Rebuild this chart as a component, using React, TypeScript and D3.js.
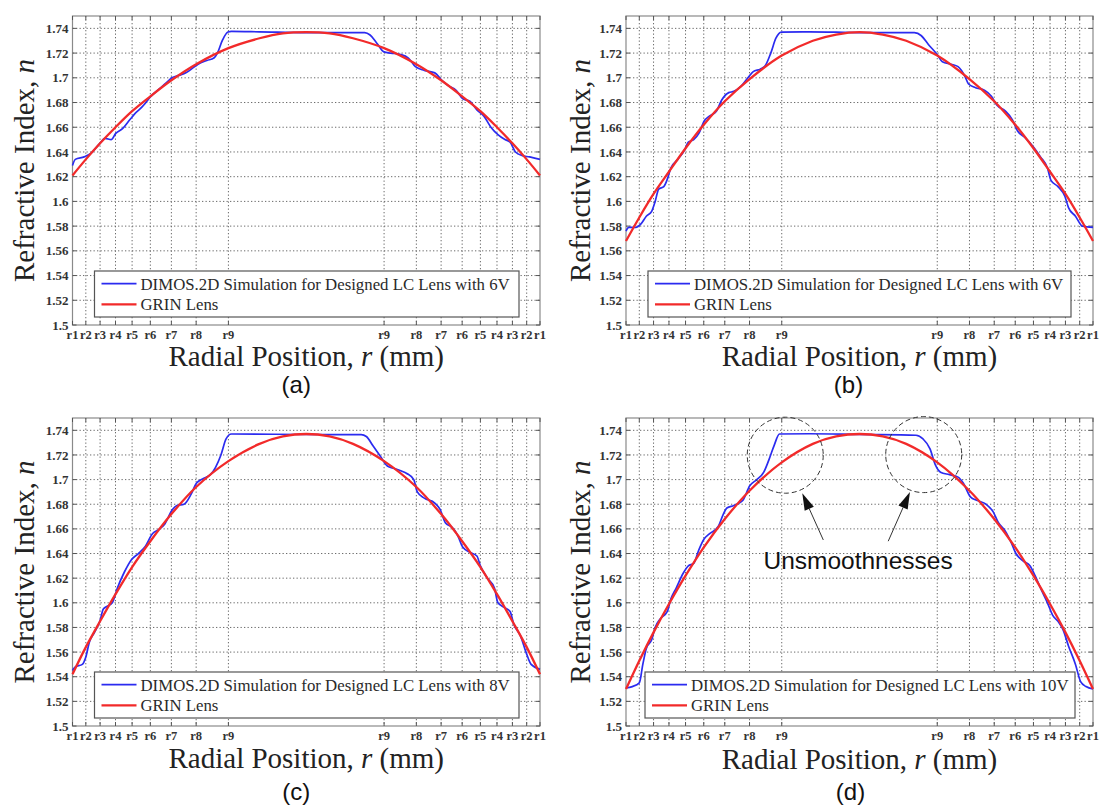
import React from "react";
import * as d3 from "d3";

const SERIF = '"Liberation Serif", "Times New Roman", Times, serif';
const SANS = '"Liberation Sans", Arial, Helvetica, sans-serif';

// normalized radial position of electrode rings
const tickPos = [-1, -0.943, -0.882, -0.816, -0.745, -0.667, -0.577, -0.471, -0.333,
  0.333, 0.471, 0.577, 0.667, 0.745, 0.816, 0.882, 0.943, 1];
const tickLabels = ["r1", "r2", "r3", "r4", "r5", "r6", "r7", "r8", "r9",
  "r9", "r8", "r7", "r6", "r5", "r4", "r3", "r2", "r1"];
const yTicks = [1.5, 1.52, 1.54, 1.56, 1.58, 1.6, 1.62, 1.64, 1.66, 1.68, 1.7, 1.72, 1.74];

// GRIN lens (red) sample positions & values
const redX = [-1, -0.943, -0.882, -0.816, -0.745, -0.667, -0.577, -0.471, -0.333, -0.2, -0.1, 0,
  0.1, 0.2, 0.333, 0.471, 0.577, 0.667, 0.745, 0.816, 0.882, 0.943, 1];
const redA = [1.621, 1.634, 1.647, 1.660, 1.673, 1.685, 1.698, 1.711, 1.724, 1.732, 1.736, 1.737,
  1.736, 1.732, 1.724, 1.711, 1.698, 1.685, 1.673, 1.660, 1.647, 1.634, 1.621];
const redB = [1.568, 1.587, 1.606, 1.624, 1.643, 1.662, 1.681, 1.699, 1.718, 1.730, 1.735, 1.737,
  1.735, 1.730, 1.718, 1.699, 1.681, 1.662, 1.643, 1.624, 1.606, 1.587, 1.568];
const redC = [1.542, 1.564, 1.585, 1.607, 1.629, 1.650, 1.672, 1.694, 1.715, 1.729, 1.735, 1.737,
  1.735, 1.729, 1.715, 1.694, 1.672, 1.650, 1.629, 1.607, 1.585, 1.564, 1.542];
const redD = [1.530, 1.553, 1.576, 1.599, 1.622, 1.645, 1.668, 1.691, 1.714, 1.729, 1.735, 1.737,
  1.735, 1.729, 1.714, 1.691, 1.668, 1.645, 1.622, 1.599, 1.576, 1.553, 1.530];

// DIMOS.2D simulation (blue) [position, index]
const blueA: [number, number][] = [
  [-1.0, 1.629], [-0.988, 1.634], [-0.95, 1.636], [-0.92, 1.639], [-0.883, 1.647], [-0.861, 1.651],
  [-0.834, 1.650], [-0.815, 1.655], [-0.785, 1.659], [-0.755, 1.666], [-0.733, 1.671], [-0.71, 1.675],
  [-0.695, 1.678], [-0.665, 1.685], [-0.635, 1.690], [-0.598, 1.696], [-0.575, 1.700], [-0.545, 1.702],
  [-0.515, 1.704], [-0.485, 1.708], [-0.463, 1.711], [-0.425, 1.714], [-0.395, 1.716], [-0.38, 1.720],
  [-0.358, 1.7306], [-0.335, 1.737], [-0.32, 1.7375], [-0.2, 1.7372], [0.0, 1.7366], [0.25, 1.7365],
  [0.273, 1.7346], [0.302, 1.728], [0.332, 1.721], [0.362, 1.720], [0.4, 1.719], [0.437, 1.716],
  [0.467, 1.709], [0.505, 1.706], [0.55, 1.704], [0.58, 1.698], [0.61, 1.6934], [0.64, 1.690],
  [0.67, 1.683], [0.7, 1.681], [0.73, 1.674], [0.76, 1.669], [0.79, 1.660], [0.82, 1.654],
  [0.85, 1.650], [0.872, 1.648], [0.895, 1.640], [0.925, 1.637], [0.955, 1.636], [0.977, 1.635],
  [1.0, 1.634]];
const blueB: [number, number][] = [
  [-1.0, 1.576], [-0.988, 1.579], [-0.958, 1.579], [-0.935, 1.582], [-0.913, 1.588], [-0.89, 1.592],
  [-0.875, 1.600], [-0.86, 1.610], [-0.838, 1.612], [-0.823, 1.618], [-0.808, 1.627], [-0.778, 1.634],
  [-0.748, 1.642], [-0.733, 1.648], [-0.71, 1.650], [-0.688, 1.655], [-0.665, 1.665], [-0.643, 1.669],
  [-0.613, 1.673], [-0.59, 1.682], [-0.56, 1.688], [-0.538, 1.689], [-0.508, 1.693], [-0.478, 1.700],
  [-0.455, 1.705], [-0.425, 1.707], [-0.403, 1.710], [-0.38, 1.720], [-0.358, 1.732], [-0.335, 1.737],
  [-0.215, 1.7372], [0.0, 1.7366], [0.235, 1.7365], [0.265, 1.734], [0.295, 1.727], [0.332, 1.719],
  [0.355, 1.713], [0.392, 1.711], [0.422, 1.709], [0.452, 1.701], [0.467, 1.695], [0.497, 1.692],
  [0.535, 1.690], [0.565, 1.685], [0.588, 1.678], [0.625, 1.673], [0.655, 1.666], [0.677, 1.657],
  [0.707, 1.652], [0.745, 1.644], [0.775, 1.636], [0.805, 1.627], [0.82, 1.617], [0.85, 1.612],
  [0.88, 1.604], [0.895, 1.595], [0.925, 1.588], [0.955, 1.580], [1.0, 1.579]];
const blueC: [number, number][] = [
  [-1.0, 1.545], [-0.988, 1.548], [-0.958, 1.550], [-0.943, 1.556], [-0.928, 1.568], [-0.906, 1.576],
  [-0.883, 1.585], [-0.868, 1.595], [-0.853, 1.597], [-0.83, 1.600], [-0.808, 1.612], [-0.778, 1.625],
  [-0.748, 1.635], [-0.718, 1.640], [-0.688, 1.646], [-0.658, 1.656], [-0.635, 1.659], [-0.605, 1.664],
  [-0.575, 1.675], [-0.553, 1.679], [-0.523, 1.680], [-0.493, 1.688], [-0.47, 1.697], [-0.44, 1.701],
  [-0.41, 1.704], [-0.388, 1.710], [-0.365, 1.720], [-0.343, 1.733], [-0.32, 1.737], [0.0, 1.7366],
  [0.235, 1.7365], [0.257, 1.735], [0.287, 1.727], [0.317, 1.719], [0.347, 1.711], [0.377, 1.709],
  [0.407, 1.707], [0.43, 1.705], [0.46, 1.700], [0.475, 1.690], [0.505, 1.685], [0.55, 1.681],
  [0.572, 1.676], [0.595, 1.665], [0.625, 1.661], [0.647, 1.655], [0.67, 1.645], [0.7, 1.641],
  [0.73, 1.638], [0.745, 1.630], [0.775, 1.620], [0.805, 1.612], [0.82, 1.600], [0.85, 1.596],
  [0.872, 1.593], [0.887, 1.583], [0.917, 1.573], [0.94, 1.560], [0.962, 1.550], [1.0, 1.546]];
const blueD: [number, number][] = [
  [-1.0, 1.531], [-0.973, 1.532], [-0.943, 1.535], [-0.928, 1.550], [-0.913, 1.563], [-0.89, 1.570],
  [-0.875, 1.580], [-0.853, 1.587], [-0.823, 1.593], [-0.808, 1.603], [-0.785, 1.612], [-0.755, 1.624],
  [-0.733, 1.630], [-0.71, 1.632], [-0.688, 1.643], [-0.665, 1.652], [-0.643, 1.656], [-0.605, 1.662],
  [-0.583, 1.672], [-0.568, 1.677], [-0.538, 1.679], [-0.5, 1.683], [-0.47, 1.695], [-0.44, 1.700],
  [-0.41, 1.706], [-0.388, 1.716], [-0.365, 1.728], [-0.343, 1.737], [-0.215, 1.7372], [0.0, 1.7366],
  [0.242, 1.736], [0.272, 1.733], [0.302, 1.725], [0.325, 1.712], [0.347, 1.706], [0.385, 1.704],
  [0.422, 1.702], [0.445, 1.697], [0.475, 1.686], [0.505, 1.683], [0.542, 1.680], [0.572, 1.674],
  [0.595, 1.665], [0.625, 1.658], [0.647, 1.650], [0.67, 1.640], [0.7, 1.634], [0.73, 1.630],
  [0.752, 1.622], [0.775, 1.612], [0.805, 1.600], [0.827, 1.590], [0.85, 1.585], [0.872, 1.578],
  [0.895, 1.565], [0.925, 1.550], [0.947, 1.536], [0.97, 1.532], [1.0, 1.530]];

const legendBlue = [
  "DIMOS.2D Simulation for Designed LC Lens with 6V",
  "DIMOS.2D Simulation for Designed LC Lens with 6V",
  "DIMOS.2D Simulation for Designed LC Lens with 8V",
  "DIMOS.2D Simulation for Designed LC Lens with 10V",
];
const legendRed = "GRIN Lens";
const panelLabels = ["(a)", "(b)", "(c)", "(d)"];

// annotation of panel (d): positions in data coordinates
const circleCenters: [number, number][] = [[-0.318, 1.7198], [0.275, 1.7203]];
const arrowTails: [number, number][] = [[-0.155, 1.651], [0.123, 1.650]];
const arrowTips: [number, number][] = [[-0.245, 1.6889], [0.216, 1.690]];
const noteText = "Unsmoothnesses";
const notePos: [number, number] = [-0.006, 1.6274];

const BLUE = "#2b2bf0";
const RED = "#f22a2a";

type Cfg = {
  left: number; top: number; width: number; height: number;
  red: number[]; blue: [number, number][]; legend: string; label: string;
  yTitleX: number; xTitleY: number; labelY: number; labelDx: number;
  legL: number; legR: number; note?: boolean;
};

function Panel({ c }: { c: Cfg }) {
  const x = d3.scaleLinear().domain([-1, 1]).range([c.left, c.left + c.width]);
  const y = d3.scaleLinear().domain([1.5, 1.75]).range([c.top + c.height, c.top]);
  const bottom = c.top + c.height;
  const right = c.left + c.width;
  const redLine = d3.line<number>().x((_, i) => x(redX[i])).y((d) => y(d)).curve(d3.curveCatmullRom.alpha(0.5));
  const blueLine = d3.line<[number, number]>().x((d) => x(d[0])).y((d) => y(d[1])).curve(d3.curveMonotoneX);
  const grid = "#6a6a6a";
  const legL = c.left + c.legL;
  const legR = right - c.legR;
  const legB = bottom - 8;
  const legT = legB - 46;
  const cx = (c.left + right) / 2;
  const fmt = (v: number) => String(+v.toFixed(2));
  return (
    <g>
      {tickPos.filter((t) => Math.abs(t) < 0.999).map((t, i) => (
        <line key={"gx" + i} x1={x(t)} x2={x(t)} y1={c.top} y2={bottom} stroke={grid} strokeWidth={1} strokeDasharray="1.3 2.2" />
      ))}
      {yTicks.filter((t) => t > 1.5).map((t, i) => (
        <line key={"gy" + i} x1={c.left} x2={right} y1={y(t)} y2={y(t)} stroke={grid} strokeWidth={1} strokeDasharray="1.3 2.2" />
      ))}
      <rect x={c.left} y={c.top} width={c.width} height={c.height} fill="none" stroke="#8a8a8a" strokeWidth={1.2} />
      {tickPos.map((t, i) => (
        <g key={"tx" + i}>
          <line x1={x(t)} x2={x(t)} y1={bottom} y2={bottom - 4} stroke="#555" />
          <line x1={x(t)} x2={x(t)} y1={c.top} y2={c.top + 4} stroke="#555" />
          <text x={x(t)} y={bottom + 14} textAnchor="middle" fontFamily={SERIF} fontSize={12.5} fontWeight="bold" fill="#333">{tickLabels[i]}</text>
        </g>
      ))}
      {yTicks.map((t, i) => (
        <g key={"ty" + i}>
          <line x1={c.left} x2={c.left + 4} y1={y(t)} y2={y(t)} stroke="#555" />
          <line x1={right} x2={right - 4} y1={y(t)} y2={y(t)} stroke="#555" />
          <text x={c.left - 4} y={y(t)} dy="0.35em" textAnchor="end" fontFamily={SERIF} fontSize={13} fontWeight="bold" fill="#333">{fmt(t)}</text>
        </g>
      ))}
      <path d={blueLine(c.blue) || ""} fill="none" stroke={BLUE} strokeWidth={1.7} />
      <path d={redLine(c.red) || ""} fill="none" stroke={RED} strokeWidth={2.3} />
      <rect x={legL} y={legT} width={legR - legL} height={46} fill="#fff" stroke="#555" strokeWidth={1.2} />
      <line x1={legL + 7} x2={legL + 42} y1={legT + 12.6} y2={legT + 12.6} stroke={BLUE} strokeWidth={1.7} />
      <line x1={legL + 7} x2={legL + 42} y1={legT + 33.3} y2={legT + 33.3} stroke={RED} strokeWidth={2.3} />
      <text x={legL + 46} y={legT + 18.5} fontFamily={SERIF} fontSize={16.8} fill="#2a2a2a">{c.legend}</text>
      <text x={legL + 46} y={legT + 39} fontFamily={SERIF} fontSize={16.8} fill="#2a2a2a">{legendRed}</text>
      <text x={cx} y={c.xTitleY} textAnchor="middle" fontFamily={SERIF} fontSize={29} fill="#222">
        Radial Position, <tspan fontStyle="italic">r</tspan> (mm)
      </text>
      <text transform={`translate(${c.yTitleX},${c.top + c.height / 2}) rotate(-90)`} dy="0.33em" textAnchor="middle" fontFamily={SERIF} fontSize={29} fill="#222">
        Refractive Index, <tspan fontStyle="italic">n</tspan>
      </text>
      <text x={cx + c.labelDx} y={c.labelY} textAnchor="middle" fontFamily={SANS} fontSize={24} fill="#111">{c.label}</text>
      {c.note && (
        <g>
          {circleCenters.map((p, i) => (
            <circle key={"cc" + i} cx={x(p[0])} cy={y(p[1])} r={38} fill="none" stroke="#333" strokeWidth={1} strokeDasharray="5 3" />
          ))}
          {arrowTails.map((p, i) => {
            const x1 = x(p[0]), y1 = y(p[1]);
            const x2 = x(arrowTips[i][0]), y2 = y(arrowTips[i][1]);
            const ang = Math.atan2(y2 - y1, x2 - x1);
            const L = 17, W = 5;
            const bx = x2 - L * Math.cos(ang), by = y2 - L * Math.sin(ang);
            const px = -Math.sin(ang) * W, py = Math.cos(ang) * W;
            return (
              <g key={"ar" + i}>
                <line x1={x1} y1={y1} x2={bx} y2={by} stroke="#333" strokeWidth={1} />
                <polygon points={`${x2},${y2} ${bx + px},${by + py} ${bx - px},${by - py}`} fill="#111" />
              </g>
            );
          })}
          <text x={x(notePos[0])} y={y(notePos[1])} textAnchor="middle" fontFamily={SANS} fontSize={24.5} fill="#111">{noteText}</text>
        </g>
      )}
    </g>
  );
}

const panels: Cfg[] = [
  { left: 72.5, top: 16, width: 467.5, height: 309, red: redA, blue: blueA, legend: legendBlue[0], label: panelLabels[0],
    yTitleX: 24.5, xTitleY: 366, labelY: 393, labelDx: -10, legL: 22, legR: 21 },
  { left: 626, top: 16, width: 467, height: 309, red: redB, blue: blueB, legend: legendBlue[1], label: panelLabels[1],
    yTitleX: 580, xTitleY: 366, labelY: 393, labelDx: -11, legL: 22, legR: 22 },
  { left: 72.5, top: 418, width: 467.5, height: 308, red: redC, blue: blueC, legend: legendBlue[2], label: panelLabels[2],
    yTitleX: 24.5, xTitleY: 768, labelY: 800, labelDx: -10, legL: 22, legR: 21 },
  { left: 626, top: 418, width: 467, height: 308, red: redD, blue: blueD, legend: legendBlue[3], label: panelLabels[3],
    yTitleX: 580, xTitleY: 769, labelY: 800, labelDx: -9, legL: 19, legR: 18, note: true },
];

export default function App() {
  return (
    <svg width={1101} height={805} style={{ position: "absolute", left: 0, top: 0, background: "#fff" }}>
      <rect width={1101} height={805} fill="#fff" />
      {panels.map((p, i) => <Panel key={i} c={p} />)}
    </svg>
  );
}
